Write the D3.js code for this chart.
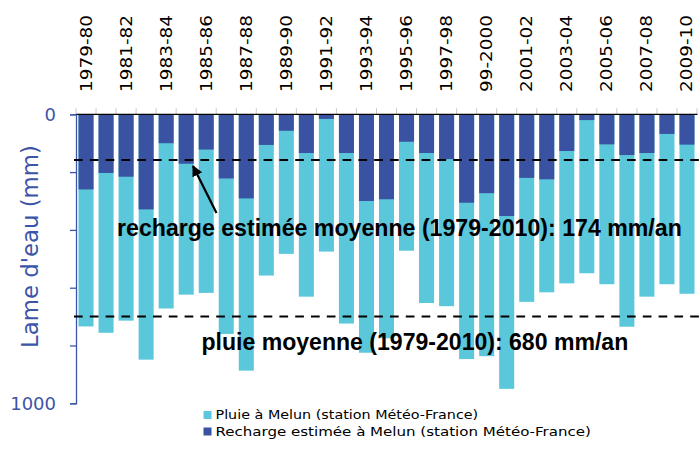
<!DOCTYPE html>
<html><head><meta charset="utf-8">
<script src="https://cdn.jsdelivr.net/npm/d3@7"></script>
<style>html,body{margin:0;padding:0;background:#fff;}svg{display:block;}</style>
</head><body>
<script>
// Hydrological years (the label "99-2000" is as printed in the original)
const yearLabels = ["1979-80","1980-81","1981-82","1982-83","1983-84","1984-85","1985-86","1986-87","1987-88","1988-89","1989-90","1990-91","1991-92","1992-93","1993-94","1994-95","1995-96","1996-97","1997-98","1998-99","99-2000","2000-01","2001-02","2002-03","2003-04","2004-05","2005-06","2006-07","2007-08","2008-09","2009-10"];
const pluie = [734,756,714,849,672,624,618,760,887,558,483,631,475,724,825,775,472,653,664,847,837,950,649,616,585,550,588,735,631,588,621];
const recharge = [260,203,216,329,100,171,122,222,291,106,57,134,16,134,300,294,95,134,155,306,273,352,220,225,127,20,104,141,134,68,105];
const yTicks = [0,200,400,600,800,1000];
const yTickLabels = {0:"0",1000:"1000"};
const meanRechargeLine = 158;   // drawn position of the hand-placed mean line
const meanPluieLine = 700;
const textRecharge = "recharge estimée moyenne (1979-2010): 174 mm/an";
const textPluie = "pluie moyenne (1979-2010): 680 mm/an";
const legendItems = ["Pluie à Melun (station Météo-France)","Recharge estimée à Melun (station Météo-France)"];

const W=699,H=449;
const cPluie="#5BC7DA", cRech="#3A52A2", cAxis="#3D55A8";
const svg=d3.select("body").append("svg").attr("width",W).attr("height",H);

const x=d3.scaleBand().domain(yearLabels).range([76,697]).paddingInner(0.25).paddingOuter(0.125);
const y=d3.scaleLinear().domain([0,1000]).range([114.3,403.3]);

// fit a text horizontally to a target width by scaling (keeps glyph height)
function fitText(sel,x0,y0,target,rotate){
  const len=sel.node().getComputedTextLength();
  const k=target/len;
  sel.attr("x",0).attr("y",0)
     .attr("transform",`translate(${x0},${y0})${rotate?` rotate(${rotate})`:""} scale(${k},1)`);
}

// bars
svg.append("g").selectAll("rect").data(yearLabels).join("rect")
  .attr("x",d=>x(d)).attr("width",x.bandwidth())
  .attr("y",y(0)).attr("height",(d,i)=>y(pluie[i])-y(0)).attr("fill",cPluie);
svg.append("g").selectAll("rect").data(yearLabels).join("rect")
  .attr("x",d=>x(d)).attr("width",x.bandwidth())
  .attr("y",y(0)).attr("height",(d,i)=>y(recharge[i])-y(0)).attr("fill",cRech);

// top category axis (ticks only, gray)
const step=x.step();
svg.append("g").selectAll("line").data(d3.range(yearLabels.length+1)).join("line")
  .attr("x1",i=>76+i*step).attr("x2",i=>76+i*step)
  .attr("y1",y(0)-6).attr("y2",y(0)).attr("stroke","#c8c8c8").attr("stroke-width",1);
svg.append("line").attr("x1",76).attr("x2",697.5).attr("y1",y(0)).attr("y2",y(0))
  .attr("stroke","#000").attr("stroke-width",1.3);

// year labels
svg.append("g").selectAll("text").data(yearLabels.filter((d,i)=>i%2===0)).join("text")
  .attr("font-family","'DejaVu Sans',sans-serif").attr("font-size",16)
  .attr("fill","#000").text(d=>d)
  .each(function(d){ fitText(d3.select(this), x(d)+x.bandwidth()/2+5.5, 92, 77, -90); });

// y axis
const yAxis=d3.axisLeft(y).tickValues(yTicks).tickSize(6).tickFormat(d=>yTickLabels[d]||"");
const ga=svg.append("g").attr("transform","translate(76,0)").call(yAxis);
ga.select(".domain").attr("stroke",cAxis).attr("stroke-width",1.3);
ga.selectAll(".tick line").attr("stroke",cAxis).attr("stroke-width",1.3);
ga.selectAll(".tick text").attr("fill",cAxis).attr("font-family","'DejaVu Sans',sans-serif")
  .attr("font-size",18).attr("x",-20).attr("dy","0.35em");

// axis title
const at=svg.append("text").attr("font-family","'DejaVu Sans',sans-serif")
  .attr("font-size",23).attr("fill",cAxis).text("Lame d'eau (mm)");
fitText(at,38,348,203,-90);

// mean dashed lines
[meanRechargeLine,meanPluieLine].forEach(v=>{
  svg.append("line").attr("x1",74).attr("x2",699).attr("y1",y(v)).attr("y2",y(v))
    .attr("stroke","#000").attr("stroke-width",2).attr("stroke-dasharray","8.7,7.1");
});

// annotations
const fam="'Liberation Sans Narrow','Arial Narrow','Liberation Sans',Arial,sans-serif";
const t1=svg.append("text").attr("font-family",fam).attr("font-weight","bold")
  .attr("font-size",24.5).attr("fill","#000").text(textRecharge);
fitText(t1,117,236,565);
const t2=svg.append("text").attr("font-family",fam).attr("font-weight","bold")
  .attr("font-size",24.5).attr("fill","#000").text(textPluie);
fitText(t2,201.5,350,427);

// arrow
svg.append("defs").append("marker").attr("id","ah").attr("viewBox","0 0 10 10")
  .attr("refX",9).attr("refY",5).attr("markerWidth",5).attr("markerHeight",5)
  .attr("orient","auto").append("path").attr("d","M0,0L10,5L0,10z").attr("fill","#000");
svg.append("line").attr("x1",216.5).attr("y1",213).attr("x2",193).attr("y2",166)
  .attr("stroke","#000").attr("stroke-width",2.2).attr("marker-end","url(#ah)");

// legend
const lg=svg.append("g");
legendItems.forEach((t,i)=>{
  const yy=411+i*16.5;
  lg.append("rect").attr("x",203.5).attr("y",yy).attr("width",8).attr("height",8)
    .attr("fill",i===0?cPluie:cRech);
  const lt=lg.append("text").attr("font-family","'DejaVu Sans',sans-serif")
    .attr("font-size",13).attr("fill","#000").text(t);
  fitText(lt,215.5,yy+8.3,i===0?263:376);
});
</script>
</body></html>
